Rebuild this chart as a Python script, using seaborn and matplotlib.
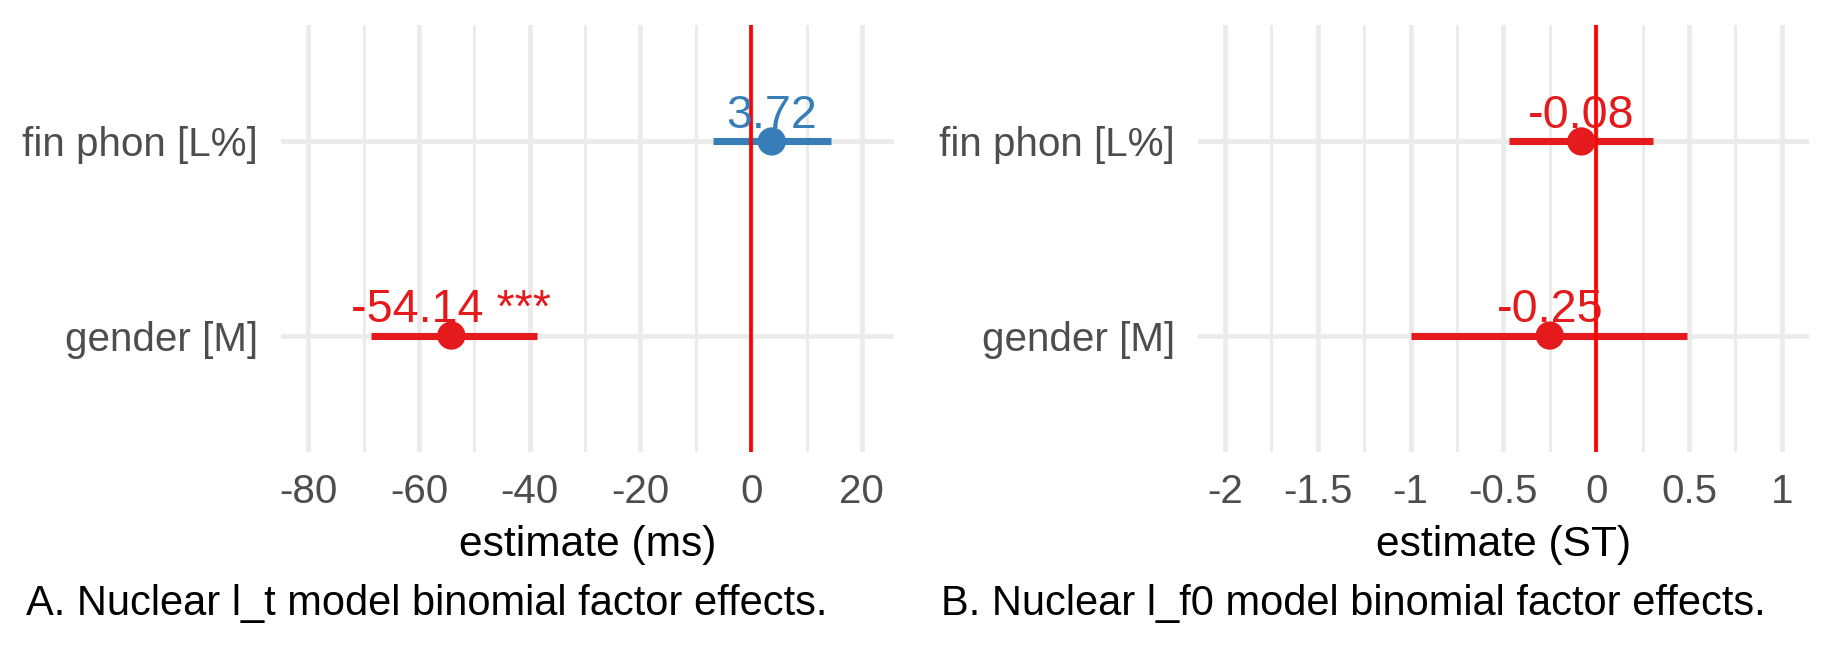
import numpy as np
import pandas as pd
import matplotlib
matplotlib.use("Agg")
import matplotlib.pyplot as plt
import seaborn as sns

# ---------------- data ----------------
terms = ["fin phon [L%]", "gender [M]"]

est_a = [3.72, -54.14]
low_a = [-6.8, -68.7]
high_a = [14.4, -38.7]
labels_a = ["3.72", "-54.14 ***"]

est_b = [-0.08, -0.25]
low_b = [-0.47, -1.00]
high_b = [0.305, 0.49]
labels_b = ["-0.08", "-0.25"]

xticks_a = [-80, -60, -40, -20, 0, 20]
xticklabels_a = ["-80", "-60", "-40", "-20", "0", "20"]
xminor_a = [-70, -50, -30, -10, 10]

xticks_b = [-2, -1.5, -1, -0.5, 0, 0.5, 1]
xticklabels_b = ["-2", "-1.5", "-1", "-0.5", "0", "0.5", "1"]
xminor_b = [-1.75, -1.25, -0.75, -0.25, 0.25, 0.75]

xlabel_a = "estimate (ms)"
xlabel_b = "estimate (ST)"
caption_a = "A. Nuclear l_t model binomial factor effects."
caption_b = "B. Nuclear l_f0 model binomial factor effects."

# ---------------- style ----------------
sns.set_theme(style="white")
plt.rcParams["font.family"] = ["Liberation Sans", "DejaVu Sans"]

BLUE = "#377EB8"
RED = "#E41A1C"
GRID = "#EBEBEB"
TICKCOL = "#4D4D4D"

W, H, DPI = 1830, 649, 300
fig = plt.figure(figsize=(W / DPI, H / DPI), dpi=DPI)
fig.patch.set_facecolor("white")

def px_rect(x0, y0, x1, y1):
    return [x0 / W, 1 - y1 / H, (x1 - x0) / W, (y1 - y0) / H]

ax_a = fig.add_axes(px_rect(281, 25, 894, 452))
ax_b = fig.add_axes(px_rect(1197.7, 25, 1809.4, 452))


def draw_panel(ax, est, low, high, labels, xlim, xticks, xticklabels, xminor, xlabel):
    df = pd.DataFrame({
        "term": terms,
        "pos": np.arange(len(terms)),
        "est": est,
        "low": low,
        "high": high,
        "label": labels,
    })
    df["color"] = [BLUE if v > 0 else RED for v in df["est"]]

    ax.set_facecolor("white")
    ax.set_xlim(*xlim)
    ax.set_ylim(len(terms) - 1 + 0.6, -0.6)

    ax.set_xticks(xticks)
    ax.set_xticklabels(xticklabels)
    ax.set_xticks(xminor, minor=True)
    ax.set_yticks(df["pos"])
    ax.set_yticklabels(df["term"])

    ax.grid(which="major", axis="both", color=GRID, lw=1.15, zorder=0)
    ax.grid(which="minor", axis="x", color=GRID, lw=0.7, zorder=0)
    ax.set_axisbelow(True)

    for s in ax.spines.values():
        s.set_visible(False)
    ax.tick_params(axis="both", which="both", length=0, colors=TICKCOL,
                   labelsize=9.7)
    ax.tick_params(axis="x", pad=5.0)
    ax.tick_params(axis="y", pad=5.5)

    # confidence intervals
    ax.hlines(df["pos"], df["low"], df["high"], colors=df["color"],
              lw=1.7, zorder=2, capstyle="butt")
    # zero line
    ax.axvline(0, color="red", lw=0.9, zorder=3)
    # points
    pal = dict(zip(df["term"], df["color"]))
    sns.scatterplot(data=df, x="est", y="pos", hue="term", palette=pal,
                    s=46, edgecolor="none", legend=False, ax=ax, zorder=4)
    # value labels
    for _, r in df.iterrows():
        ax.annotate(r["label"], xy=(r["est"], r["pos"]), xytext=(0, 3.2),
                    textcoords="offset points", ha="center", va="baseline",
                    color=r["color"], fontsize=11.2, zorder=5)

    ax.set_xlabel(xlabel, fontsize=10.2, color="black", labelpad=3.5)
    ax.set_ylabel("")


draw_panel(ax_a, est_a, low_a, high_a, labels_a, (-84.9, 25.8),
           xticks_a, xticklabels_a, xminor_a, xlabel_a)
draw_panel(ax_b, est_b, low_b, high_b, labels_b, (-2.146, 1.148),
           xticks_b, xticklabels_b, xminor_b, xlabel_b)

fig.text(26 / W, 1 - 615 / H, caption_a, ha="left", va="baseline",
         fontsize=10.0, color="black")
fig.text(941 / W, 1 - 615 / H, caption_b, ha="left", va="baseline",
         fontsize=10.0, color="black")

fig.savefig("out.png", dpi=DPI, facecolor="white")
